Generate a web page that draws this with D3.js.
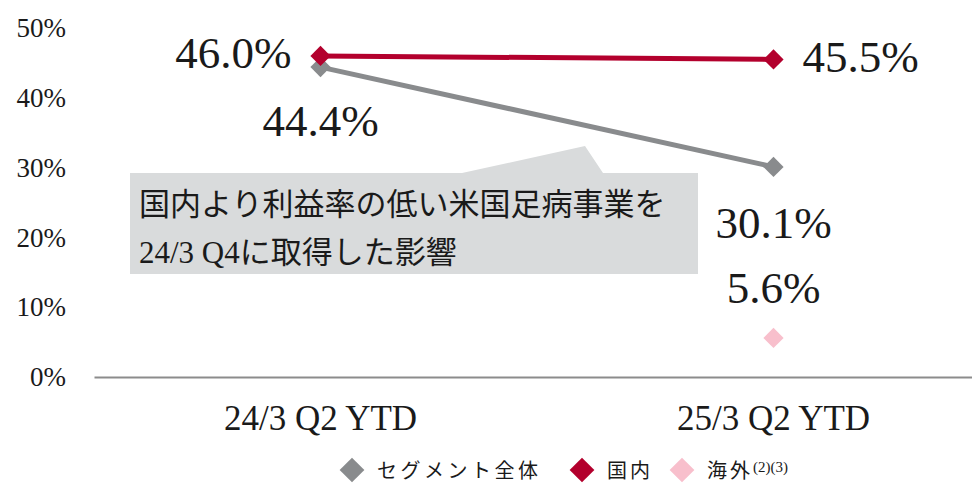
<!DOCTYPE html>
<html><head><meta charset="utf-8">
<script src="https://cdn.jsdelivr.net/npm/d3@7"></script>
<style>
html,body{margin:0;padding:0;background:#fff;}
svg{display:block;}
text{font-family:"Liberation Serif","Noto Sans CJK JP",serif;fill:#1a1a1a;}
</style></head>
<body>
<script>
const categories = ["24/3 Q2 YTD", "25/3 Q2 YTD"];
const seriesNames = ["セグメント全体", "国内", "海外"];
const segmentTotal = [44.4, 30.1];
const domestic = [46.0, 45.5];
const overseas = [null, 5.6];
const yTicks = [0, 10, 20, 30, 40, 50];
const calloutLines = ["国内より利益率の低い米国足病事業を", "24/3 Q4に取得した影響"];
const colors = ["#898b8d", "#b3002d", "#f8bfcc"];

const W = 972, H = 483;
const svg = d3.select("body").append("svg").attr("width", W).attr("height", H);

const x = d3.scaleBand().domain(categories).range([94, 1000]).padding(0);
const cx = c => x(c) + x.bandwidth() / 2;
const y = d3.scaleLinear().domain([0, 50]).range([377, 28]);

// y tick labels
const yAxis = d3.axisLeft(y).tickValues(yTicks).tickFormat(d => d + "%").tickSize(0).tickPadding(0);
const ya = svg.append("g").attr("transform", "translate(66,0)").call(yAxis);
ya.select(".domain").remove();
ya.selectAll("text").attr("font-size", 27).attr("fill", "#1a1a1a")
  .style("font-family", '"Liberation Serif", serif').attr("dy", "0.32em");

// x axis
const xAxis = d3.axisBottom(x).tickSize(0).tickPadding(0);
const xa = svg.append("g").attr("transform", `translate(0,${y(0)})`).call(xAxis);
xa.select(".domain").attr("stroke", "#8c8c8c").attr("stroke-width", 2);
xa.selectAll("text").attr("font-size", 35).attr("fill", "#1a1a1a")
  .style("font-family", '"Liberation Serif", serif').attr("y", 53).attr("dy", 0);

// callout
const cb = svg.append("g");
cb.append("path")
  .attr("d", `M${x(categories[0]) + 36},${y(0) - 204}L${x(categories[0]) + 368},${y(0) - 204}L${x(categories[0]) + 491},${y(0) - 231}L${x(categories[0]) + 509},${y(0) - 204}L${x(categories[0]) + 604},${y(0) - 204}L${x(categories[0]) + 604},${y(0) - 103}L${x(categories[0]) + 36},${y(0) - 103}Z`)
  .attr("fill", "#d9dbdc");
cb.selectAll("text.cl").data(calloutLines).join("text")
  .attr("class", "cl")
  .attr("x", x(categories[0]) + 45)
  .attr("y", (d, i) => y(0) - 162 + i * 48)
  .attr("font-size", 31)
  .text(d => d);

// lines
const line = d3.line().defined(d => d.v != null).x(d => cx(d.c)).y(d => y(d.v));
const series = [segmentTotal, domestic, overseas].map((vals, i) => ({
  name: seriesNames[i], color: colors[i],
  pts: categories.map((c, j) => ({c, v: vals[j]}))
}));
series.forEach(s => {
  svg.append("path").datum(s.pts).attr("d", line)
    .attr("fill", "none").attr("stroke", s.color).attr("stroke-width", 5);
});
const diamond = d3.symbol().type(d3.symbolDiamond2).size(260);
series.forEach(s => {
  svg.selectAll(null).data(s.pts.filter(p => p.v != null)).join("path")
    .attr("d", diamond)
    .attr("transform", p => `translate(${cx(p.c)},${y(p.v)})`)
    .attr("fill", s.color);
});

// value labels
const lbl = (txt, px, py, anchor) => svg.append("text").attr("x", px).attr("y", py)
  .attr("text-anchor", anchor).attr("font-size", 45).text(txt);
const fmt = v => v.toFixed(1) + "%";
lbl(fmt(domestic[0]), cx(categories[0]) - 29, y(domestic[0]) + 12, "end");
lbl(fmt(segmentTotal[0]), cx(categories[0]), y(segmentTotal[0]) + 69, "middle");
lbl(fmt(domestic[1]), cx(categories[1]) + 29, y(domestic[1]) + 13, "start");
lbl(fmt(segmentTotal[1]), cx(categories[1]), y(segmentTotal[1]) + 71, "middle");
lbl(fmt(overseas[1]), cx(categories[1]), y(overseas[1]) - 35, "middle");

// legend
const legend = svg.append("g").attr("transform", "translate(0,470)");
const legX = [352, 582, 682];
const legDia = d3.symbol().type(d3.symbolDiamond2).size(390);
series.forEach((s, i) => {
  legend.append("path").attr("d", legDia).attr("transform", `translate(${legX[i]},0)`).attr("fill", s.color);
  const t = legend.append("text").attr("x", legX[i] + 25).attr("y", 8)
    .attr("font-size", 20).attr("letter-spacing", i === 0 ? 3.5 : 3).text(s.name);
  if (i === 2) {
    t.append("tspan").attr("font-size", 15).attr("dy", -6).attr("letter-spacing", 0).text("(2)(3)");
  }
});
</script>
</body></html>
